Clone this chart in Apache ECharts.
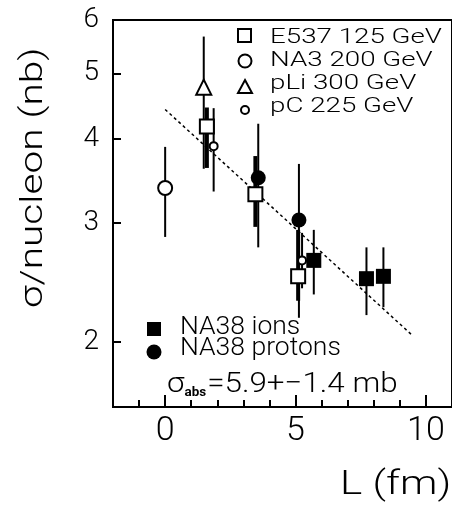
<!DOCTYPE html>
<html>
<head>
<meta charset="utf-8">
<script src="https://cdn.jsdelivr.net/npm/echarts@6/dist/echarts.min.js"></script>
<style>
  html, body { margin: 0; padding: 0; background: #fff; }
  #chart { width: 452px; height: 506px; }
</style>
</head>
<body>
<div id="chart"></div>
<script>
// Each point: [L (fm), sigma/nucleon (nb), error low, error high]
const e537 = [[1.60, 4.17, 3.62, 4.45], [3.46, 3.31, 2.96, 3.77], [5.10, 2.50, 2.30, 2.93]];
const na3 = [[0.00, 3.38, 2.86, 3.89]];
const pLi = [[1.48, 4.77, 3.61, 5.67]];
const pC = [[1.86, 3.90, 3.34, 4.44], [5.25, 2.64, 2.40, 2.90]];
const na38Ions = [[5.70, 2.64, 2.35, 2.93], [7.72, 2.48, 2.19, 2.76], [8.37, 2.50, 2.25, 2.76]];
const na38Protons = [[3.57, 3.50, 2.76, 4.21], [5.13, 3.03, 2.17, 3.67]];
// Exponential fit, straight on the log scale
const fitLine = [[0.0, 4.42], [9.5, 2.04]];

const xMajorTicks = [0, 5, 10];
const xMinorTicks = [-1, 1, 2, 3, 4, 6, 7, 8, 9];
const yTicks = [2, 3, 4, 5, 6];

const FONT = 'Roboto';
const WEIGHT = 300;
const chart = echarts.init(document.getElementById('chart'), null, { renderer: 'canvas' });

function errorBars(name, pts, width) {
  return {
    name: name + ' errors',
    type: 'custom',
    z: 1,
    silent: true,
    data: pts.map(p => [p[0], p[2], p[3]]),
    renderItem: function (params, api) {
      const lo = api.coord([api.value(0), api.value(1)]);
      const hi = api.coord([api.value(0), api.value(2)]);
      return {
        type: 'line',
        shape: { x1: lo[0], y1: lo[1], x2: hi[0], y2: hi[1] },
        style: { stroke: '#000', lineWidth: width }
      };
    }
  };
}

function markers(name, pts, symbol, size, filled) {
  return {
    name: name,
    type: 'scatter',
    z: 3,
    symbol: symbol,
    symbolSize: size,
    data: pts.map(p => [p[0], p[1]]),
    itemStyle: {
      color: filled ? '#000' : '#fff',
      borderColor: '#000',
      borderWidth: filled ? 0 : 2,
      opacity: 1
    }
  };
}

function label(text, x, y, size, scaleX, extra) {
  return Object.assign({
    type: 'text',
    x: x, y: y,
    scaleX: scaleX,
    style: { text: text, font: WEIGHT + ' ' + size + 'px "' + FONT + '"', fill: '#000', align: 'left', verticalAlign: 'middle' }
  }, extra || {});
}

const option = {
  animation: false,
  backgroundColor: '#fff',
  grid: { left: 113, top: 20, width: 342, height: 387, show: true, borderColor: '#000', borderWidth: 2, backgroundColor: 'transparent' },
  xAxis: [{
    type: 'value', min: -2, max: 11,
    axisLine: { show: true, onZero: false, lineStyle: { color: '#000', width: 2 } },
    axisTick: { show: true, inside: true, length: 12, lineStyle: { color: '#000', width: 2 }, customValues: xMajorTicks },
    axisLabel: { show: true, customValues: xMajorTicks, color: '#000', fontFamily: FONT, fontWeight: WEIGHT, fontSize: 34, margin: 7 },
    splitLine: { show: false }
  }, {
    type: 'value', min: -2, max: 11, position: 'bottom',
    axisLine: { show: false, onZero: false },
    axisTick: { show: true, inside: true, length: 7, lineStyle: { color: '#000', width: 2 }, customValues: xMinorTicks },
    axisLabel: { show: false },
    splitLine: { show: false }
  }],
  yAxis: {
    type: 'log', min: 1.6, max: 6,
    axisLine: { show: true, onZero: false, lineStyle: { color: '#000', width: 2 } },
    axisTick: { show: true, inside: true, length: 8, lineStyle: { color: '#000', width: 2 }, customValues: yTicks },
    axisLabel: { show: true, customValues: yTicks, color: '#000', fontFamily: FONT, fontWeight: WEIGHT, fontSize: 28, margin: 14 },
    splitLine: { show: false },
    minorTick: { show: false }
  },
  series: [
    {
      name: 'fit', type: 'line', z: 2, silent: true,
      data: fitLine, symbol: 'none',
      lineStyle: { color: '#000', width: 1.5, type: [3, 3] }
    },
    errorBars('NA3 200 GeV', na3, 2),
    errorBars('pLi 300 GeV', pLi, 2),
    errorBars('pC 225 GeV', pC, 2),
    errorBars('NA38 ions', na38Ions, 2),
    errorBars('NA38 protons', na38Protons, 2),
    errorBars('E537 125 GeV', e537, 4),
    markers('NA3 200 GeV', na3, 'circle', 14, false),
    markers('pLi 300 GeV', pLi, 'triangle', 15, false),
    markers('E537 125 GeV', e537, 'rect', 14, false),
    markers('pC 225 GeV', pC, 'circle', 8, false),
    markers('NA38 ions', na38Ions, 'rect', 15, true),
    markers('NA38 protons', na38Protons, 'circle', 15, true)
  ],
  graphic: [
    // legend, upper right
    { type: 'rect', shape: { x: 238, y: 29, width: 13, height: 13 }, style: { fill: '#fff', stroke: '#000', lineWidth: 2 } },
    { type: 'circle', shape: { cx: 245, cy: 61, r: 6.5 }, style: { fill: '#fff', stroke: '#000', lineWidth: 2 } },
    { type: 'polygon', shape: { points: [[245, 80], [252, 93], [238, 93]] }, style: { fill: '#fff', stroke: '#000', lineWidth: 2 } },
    { type: 'circle', shape: { cx: 245, cy: 110, r: 4 }, style: { fill: '#fff', stroke: '#000', lineWidth: 2 } },
    label('E537 125 GeV', 270, 38, 21, 1.32),
    label('NA3 200 GeV', 270, 61, 21, 1.32),
    label('pLi 300 GeV', 270, 84, 21, 1.32),
    label('pC 225 GeV', 270, 107, 21, 1.32),
    // legend, lower left
    { type: 'rect', shape: { x: 147, y: 322, width: 14, height: 14 }, style: { fill: '#000' } },
    { type: 'circle', shape: { cx: 154, cy: 352, r: 7.5 }, style: { fill: '#000' } },
    label('NA38 ions', 180, 327, 26.5, 1.0),
    label('NA38 protons', 180, 348, 26.5, 1.0),
    {
      type: 'text', x: 167, y: 385, scaleX: 1.12,
      style: {
        text: '{s|σ}{sub|abs}{s|=5.9+−1.4 mb}',
        fill: '#000', align: 'left', verticalAlign: 'middle',
        rich: {
          s: { fontFamily: FONT, fontWeight: WEIGHT, fontSize: 28, fill: '#000' },
          sub: { fontFamily: FONT, fontSize: 12, fontWeight: 'bold', fill: '#000', verticalAlign: 'bottom', padding: [0, 1, 0, 0] }
        }
      }
    },
    // axis titles
    label('L (fm)', 340, 486, 33.5, 1.26),
    label('σ/nucleon (nb)', 34, 308, 31, 1.31, { rotation: Math.PI / 2 })
  ]
};

chart.setOption(option);
</script>
</body>
</html>
